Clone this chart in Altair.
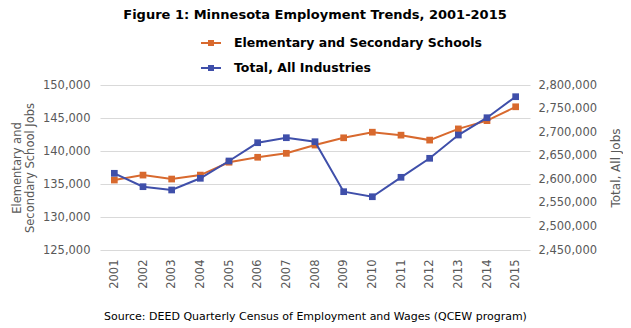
import altair as alt
import pandas as pd

years = [str(y) for y in range(2001, 2016)]
school_jobs = [135600, 136350, 135750, 136350, 138300, 139050, 139650, 140900,
               142000, 142850, 142400, 141650, 143350, 144600, 146700]
total_jobs = [2612700, 2584300, 2577300, 2602100, 2638800, 2677600, 2688200, 2679700,
              2573700, 2563000, 2604200, 2644500, 2693900, 2730600, 2775200]
series_names = ["Elementary and Secondary Schools", "Total, All Industries"]
series_colors = ["#D8692E", "#3F4FAA"]
left_ticks = [125000, 130000, 135000, 140000, 145000, 150000]
right_ticks = [2450000, 2500000, 2550000, 2600000, 2650000, 2700000, 2750000, 2800000]

rows = []
for y, v in zip(years, school_jobs):
    rows.append({"year": y, "series": series_names[0], "value": v})
for y, v in zip(years, total_jobs):
    rows.append({"year": y, "series": series_names[1], "value": v})
df = pd.DataFrame(rows)

FONT = "DejaVu Sans"
GRAY = "#595959"

x_enc = alt.X(
    "year:O", sort=years,
    scale=alt.Scale(type="point", padding=0.5),
    axis=alt.Axis(
        title="Source: DEED Quarterly Census of Employment and Wages (QCEW program)",
        titleColor="#000000", titleFontSize=11, titleFontWeight="normal",
        titleY=69, titleBaseline="alphabetic",
        labelAngle=270, labelPadding=9, labelFontSize=11.5, labelColor=GRAY,
        grid=False,
    ),
)

color_enc = alt.Color(
    "series:N",
    scale=alt.Scale(domain=series_names, range=series_colors),
    legend=alt.Legend(
        title=None, orient="none", legendX=100, legendY=-53, padding=0,
        symbolType="M-1,0H1M-0.3,-0.2H0.3M-0.3,-0.1H0.3M-0.3,0.1H0.3M-0.3,0.2H0.3",
        symbolSize=400, symbolStrokeWidth=2,
        labelFont=FONT, labelFontSize=12.5, labelFontWeight="bold", labelColor="#000000",
        labelOffset=12, rowPadding=7, labelLimit=400,
    ),
)

point_def = alt.OverlayMarkDef(shape="square", size=45, filled=True, opacity=1)

base = alt.Chart(df)

school = base.transform_filter(alt.datum.series == series_names[0]).mark_line(
    point=point_def, strokeWidth=2
).encode(
    x=x_enc,
    y=alt.Y("value:Q", scale=alt.Scale(domain=[125000, 150000], nice=False, zero=False),
            axis=alt.Axis(values=left_ticks, format=",.0f", orient="left", grid=True,
                          title=["Elementary and", "Secondary School Jobs"],
                          titlePadding=7, titleLineHeight=12.5, titleFontSize=11.5,
                          labelPadding=10)),
    color=color_enc,
)

total = base.transform_filter(alt.datum.series == series_names[1]).mark_line(
    point=point_def, strokeWidth=2
).encode(
    x=x_enc,
    y=alt.Y("value:Q", scale=alt.Scale(domain=[2450000, 2800000], nice=False, zero=False),
            axis=alt.Axis(values=right_ticks, format=",.0f", orient="right", grid=False,
                          title="Total, All Jobs", titleAngle=270,
                          titlePadding=26, labelPadding=8)),
    color=color_enc,
)

chart = alt.layer(school, total).resolve_scale(y="independent").properties(
    width=430, height=165,
    padding={"left": 92, "top": 77, "right": 93, "bottom": 72},
    autosize=alt.AutoSizeParams(type="none"),
    title=alt.TitleParams(
        "Figure 1: Minnesota Employment Trends, 2001-2015",
        font=FONT, fontSize=13, fontWeight="bold", color="#000000",
        anchor="middle", offset=10, frame="group",
    ),
).configure_view(stroke=None).configure_axis(
    domain=False, ticks=False, gridColor="#D9D9D9", gridWidth=1,
    labelFont=FONT, titleFont=FONT, labelColor=GRAY, titleColor=GRAY,
    labelFontSize=11.5, titleFontSize=12, titleFontWeight="normal",
)

chart.save("out.html", embed_options={"renderer": "svg", "actions": False})
